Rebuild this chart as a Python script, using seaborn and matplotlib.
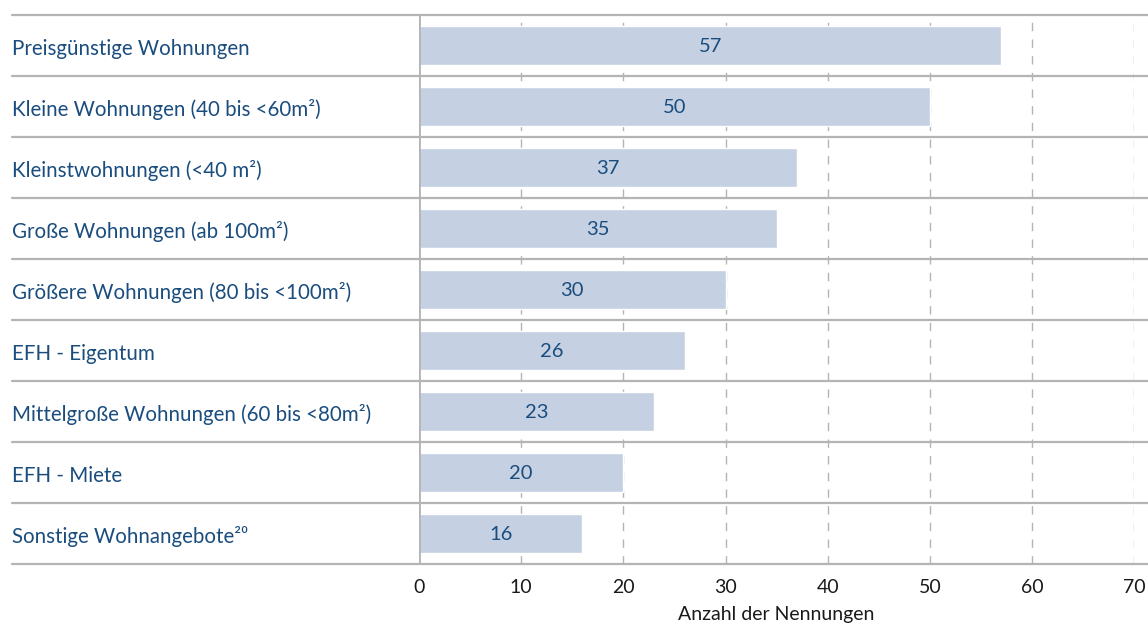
import matplotlib
matplotlib.use("Agg")
import matplotlib.pyplot as plt
import matplotlib.transforms as mtransforms
import seaborn as sns
import pandas as pd

categories = [
    "Preisgünstige Wohnungen",
    "Kleine Wohnungen (40 bis <60m²)",
    "Kleinstwohnungen (<40 m²)",
    "Große Wohnungen (ab 100m²)",
    "Größere Wohnungen (80 bis <100m²)",
    "EFH - Eigentum",
    "Mittelgroße Wohnungen (60 bis <80m²)",
    "EFH - Miete",
    "Sonstige Wohnangebote²⁰",
]
values = [57, 50, 37, 35, 30, 26, 23, 20, 16]
x_ticks = [0, 10, 20, 30, 40, 50, 60, 70]
x_label = "Anzahl der Nennungen"

sns.set_style("white")
plt.rcParams["font.family"] = ["Lato", "DejaVu Sans"]

BAR = "#c5d0e2"
TXT = "#1a4d7e"
GRID = "#b4b4b4"

df = pd.DataFrame({"cat": categories, "val": values})

fig = plt.figure(figsize=(11.48, 6.28), dpi=100)
ax = fig.add_axes([0.365, 0.102, 0.623, 0.874])

sns.barplot(data=df, x="val", y="cat", orient="h", color=BAR,
            width=0.64, saturation=1, ax=ax, zorder=2)

ax.set_xlim(0, 70)
ax.set_ylim(len(categories) - 0.5, -0.5)
ax.set_xticks(x_ticks)
ax.set_xticklabels([str(t) for t in x_ticks], fontsize=14, color="#1a1a1a")
ax.tick_params(axis="x", length=0, pad=11)
ax.set_yticks([])
ax.set_ylabel("")
ax.set_xlabel(x_label, fontsize=14, color="#1a1a1a", labelpad=7)
for s in ax.spines.values():
    s.set_visible(False)

# dashed vertical grid
for t in x_ticks[1:]:
    ax.axvline(t, color=GRID, lw=1, ls=(0, (6, 6)), zorder=1)
ax.axvline(0, color=GRID, lw=2, zorder=3)

# row separators spanning label area and plot
trans = mtransforms.blended_transform_factory(fig.transFigure, ax.transData)
for yb in [i - 0.5 for i in range(len(categories) + 1)]:
    ax.plot([12 / 1148, 1.0], [yb, yb], transform=trans, color=GRID,
            lw=1.6, clip_on=False, zorder=3)

# category labels, left aligned
for i, c in enumerate(categories):
    ax.text(12 / 1148, i + 0.05, c, transform=trans, ha="left", va="center",
            fontsize=14.8, color=TXT)

# value labels inside bars
for i, v in enumerate(values):
    ax.text(v / 2, i + 0.02, str(v), ha="center", va="center", fontsize=14.5,
            color=TXT, zorder=4)

fig.savefig("out.png", dpi=100)
